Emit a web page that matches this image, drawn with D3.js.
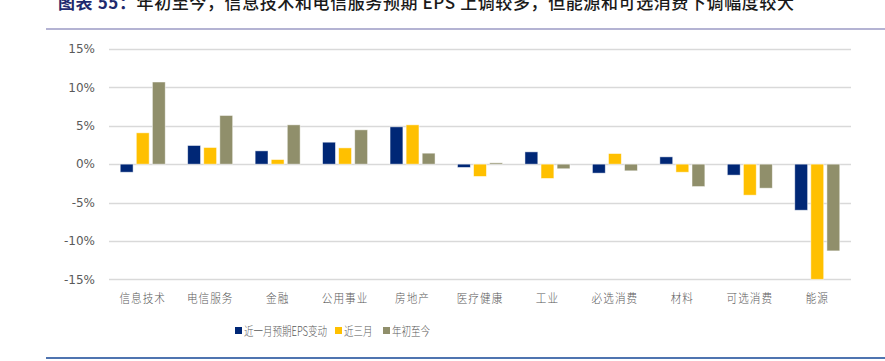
<!DOCTYPE html>
<html><head><meta charset="utf-8">
<script src="https://cdn.jsdelivr.net/npm/d3@7/dist/d3.min.js"></script>
<style>
body{margin:0;background:#fff;}
svg{display:block;font-family:"Noto Sans CJK SC","DejaVu Sans",sans-serif;}
</style></head>
<body><svg id="c" width="885" height="361"></svg>
<script>
const titleHead = "图表 55：";
const titleBody = "年初至今，信息技术和电信服务预期 EPS 上调较多，但能源和可选消费下调幅度较大";
const categories = ["信息技术","电信服务","金融","公用事业","房地产","医疗健康","工业","必选消费","材料","可选消费","能源"];
const seriesNames = ["近一月预期EPS变动","近三月","年初至今"];
const s1 = [-1.05, 2.43, 1.73, 2.86, 4.86, -0.43, 1.6, -1.17, 0.95, -1.43, -6.0];
const s2 = [4.08, 2.17, 0.6, 2.12, 5.12, -1.6, -1.86, 1.38, -1.05, -4.04, -15.0];
const s3 = [10.7, 6.34, 5.12, 4.47, 1.43, 0.17, -0.6, -0.87, -2.92, -3.13, -11.3];
const yTicks = [15, 10, 5, 0, -5, -10, -15];
const colors = ["#002776", "#FFC000", "#908F6B"];

const svg = d3.select("#c");
const series = [s1, s2, s3];

// frame lines
svg.append("line").attr("x1",46).attr("x2",885).attr("y1",29).attr("y2",29).attr("stroke","#b4b3d3").attr("stroke-width",2);
svg.append("line").attr("x1",46).attr("x2",885).attr("y1",358).attr("y2",358).attr("stroke","#4f74b0").attr("stroke-width",2);
const tt = svg.append("text").attr("x",58).attr("y",9).attr("font-size",17).attr("letter-spacing","0.6px");
tt.append("tspan").attr("font-weight","bold").attr("fill","#1f2a6e").text(titleHead);
tt.append("tspan").attr("font-weight",500).attr("fill","#1a1a1a").text(titleBody);

const x = d3.scaleBand().domain(categories).range([109, 851]);
const y = d3.scaleLinear().domain([-15, 15]).range([279.3, 49]);
const inner = d3.scaleBand().domain([0,1,2]).range([0, 45]).paddingInner(0.2);

// grid
svg.append("g").selectAll("line").data(yTicks).join("line")
  .attr("x1",109).attr("x2",851)
  .attr("y1",d=>Math.round(y(d))+0.5).attr("y2",d=>Math.round(y(d))+0.5)
  .attr("stroke","#d9d9d9").attr("stroke-width",1.5);

// y axis labels
const yAxis = d3.axisLeft(y).tickValues(yTicks).tickSize(0).tickPadding(0).tickFormat(d=>d+"%");
const ya = svg.append("g").attr("transform","translate(95,0)").call(yAxis);
ya.select(".domain").remove();
ya.selectAll("text").attr("font-size",12).attr("fill","#595959").attr("font-family","'DejaVu Sans',sans-serif");

// bars
series.forEach((s, si) => {
  svg.append("g").selectAll("rect").data(s).join("rect")
    .attr("x",(d,i)=>x(categories[i]) + x.bandwidth()/2 - 22.5 + inner(si))
    .attr("width", inner.bandwidth())
    .attr("y", d=>y(Math.max(0,d)))
    .attr("height", d=>Math.abs(y(d)-y(0)))
    .attr("fill", colors[si])
    .attr("stroke","rgba(255,255,255,0.6)").attr("stroke-width",0.8);
});

// x axis labels (narrow glyphs)
const xl = svg.append("g");
categories.forEach(c=>{
  const cx = x(c) + x.bandwidth()/2;
  xl.append("text").attr("transform",`translate(${cx},303) scale(0.85,1)`)
    .attr("text-anchor","middle").attr("font-size",12.5).attr("fill","#595959")
    .attr("letter-spacing","1.2px").attr("font-weight",300).text(c);
});

// legend
const legX = [235, 335, 383];
const lg = svg.append("g");
seriesNames.forEach((n,i)=>{
  lg.append("rect").attr("x",legX[i]).attr("y",327).attr("width",7).attr("height",7).attr("fill",colors[i]);
  lg.append("text").attr("transform",`translate(${legX[i]+9},336) scale(0.76,1)`)
    .attr("font-size",12.5).attr("fill","#595959").attr("font-weight",300).text(n);
});
</script></body></html>
